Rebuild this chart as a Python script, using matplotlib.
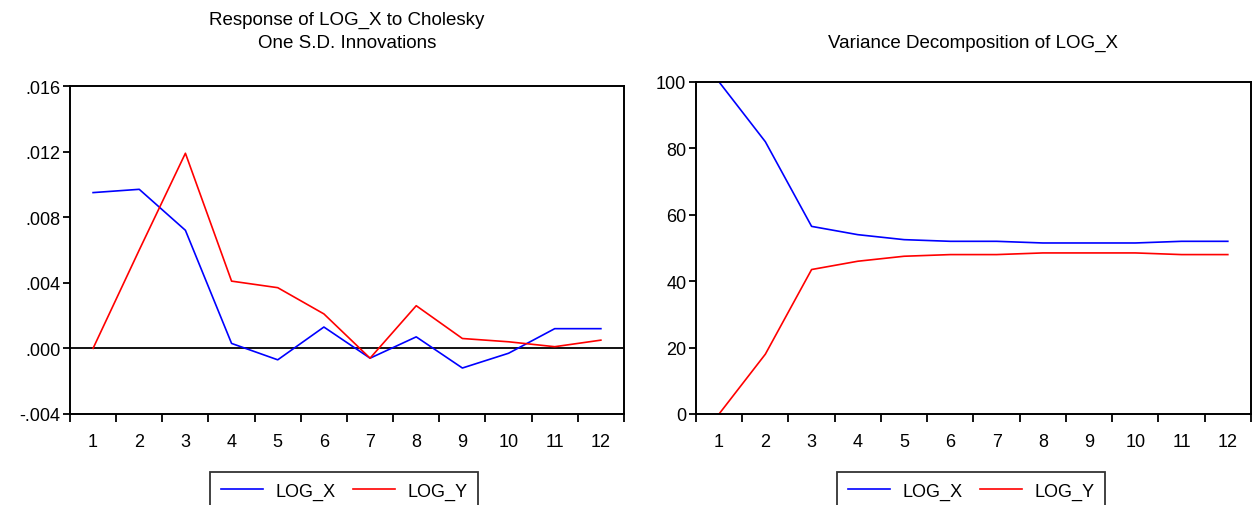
import numpy as np
import matplotlib
matplotlib.use("Agg")
import matplotlib.pyplot as plt
from matplotlib.ticker import FixedLocator, FuncFormatter

plt.rcParams['font.family'] = ['Liberation Sans', 'DejaVu Sans']

periods = np.arange(1, 13)

# Response of LOG_X to Cholesky one S.D. innovations
irf_log_x = [0.0095, 0.0097, 0.0072, 0.0003, -0.0007, 0.0013,
             -0.0006, 0.0007, -0.0012, -0.0003, 0.0012, 0.0012]
irf_log_y = [0.0000, 0.0060, 0.0119, 0.0041, 0.0037, 0.0021,
             -0.0006, 0.0026, 0.0006, 0.0004, 0.0001, 0.0005]

# Variance decomposition of LOG_X
vd_log_x = [100.0, 82.0, 56.5, 54.0, 52.5, 52.0, 52.0, 51.5, 51.5, 51.5, 52.0, 52.0]
vd_log_y = [0.0, 18.0, 43.5, 46.0, 47.5, 48.0, 48.0, 48.5, 48.5, 48.5, 48.0, 48.0]

irf_yticks = [-0.004, 0.000, 0.004, 0.008, 0.012, 0.016]
vd_yticks = [0, 20, 40, 60, 80, 100]
series_names = ["LOG_X", "LOG_Y"]


def eviews_fmt(v, pos):
    s = f"{v:.3f}"
    return s.replace("0.", ".", 1)


def style_axis(ax):
    for sp in ax.spines.values():
        sp.set_linewidth(1.4)
        sp.set_color("black")
    ax.set_xlim(0.5, 12.5)
    ax.xaxis.set_major_locator(FixedLocator(periods))
    ax.xaxis.set_minor_locator(FixedLocator(np.arange(0.5, 13, 1.0)))
    ax.tick_params(axis="x", which="major", length=0, pad=14, labelsize=13)
    ax.tick_params(axis="x", which="minor", length=6, width=1.3, direction="out")
    ax.tick_params(axis="y", length=5, width=1.3, direction="out", labelsize=13, pad=2)


fig = plt.figure(figsize=(12.59, 5.06), dpi=100)

ax1 = fig.add_axes([0.0556, 0.180, 0.440, 0.648])
ax1.plot(periods, irf_log_x, color="#0000ff", lw=1.2, label=series_names[0])
ax1.plot(periods, irf_log_y, color="#ff0000", lw=1.2, label=series_names[1])
ax1.axhline(0, color="black", lw=1.3, zorder=1)
ax1.set_ylim(-0.004, 0.016)
ax1.set_yticks(irf_yticks)
ax1.yaxis.set_major_formatter(FuncFormatter(eviews_fmt))
style_axis(ax1)
ax1.set_title("Response of LOG_X to Cholesky\nOne S.D. Innovations", fontsize=13.5, pad=28,
              linespacing=1.5)

ax2 = fig.add_axes([0.5528, 0.180, 0.4408, 0.656])
ax2.plot(periods, vd_log_x, color="#0000ff", lw=1.2, label=series_names[0])
ax2.plot(periods, vd_log_y, color="#ff0000", lw=1.2, label=series_names[1])
ax2.set_ylim(0, 100)
ax2.set_yticks(vd_yticks)
style_axis(ax2)
ax2.set_title("Variance Decomposition of LOG_X", fontsize=13.5, pad=25)

for ax, cx in [(ax1, 0.2735), (ax2, 0.7715)]:
    leg = ax.legend(loc="upper center", bbox_to_anchor=(cx, 0.066), bbox_transform=fig.transFigure,
                    ncol=2, fontsize=13, frameon=True, fancybox=False, handlelength=2.3,
                    columnspacing=1.0, handletextpad=0.7, borderpad=0.6, borderaxespad=0)
    leg.get_frame().set_edgecolor("black")
    leg.get_frame().set_linewidth(1.3)

fig.savefig("out.png", dpi=100)
